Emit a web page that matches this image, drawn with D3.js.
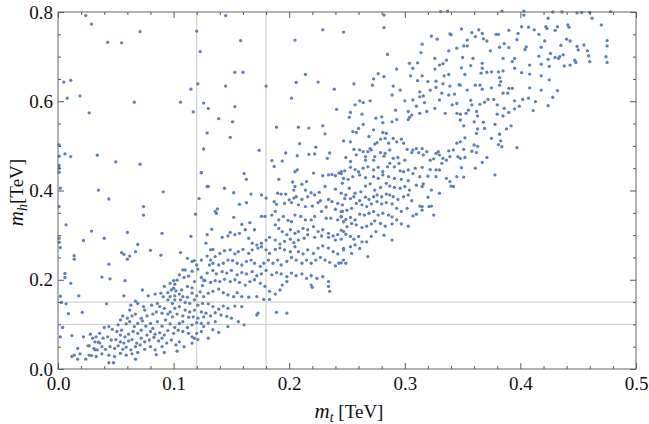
<!DOCTYPE html>
<html>
<head>
<meta charset="utf-8">
<script src="https://cdn.jsdelivr.net/npm/d3@7"></script>
<style>
body { margin: 0; background: #fff; }
text { font-family: "Liberation Serif", serif; }
</style>
</head>
<body>
<svg id="chart" width="649" height="424"></svg>
<script>
// axis ticks
var xTicks = [0, 0.1, 0.2, 0.3, 0.4, 0.5];
var xMinorTicks = [0.02, 0.04, 0.06, 0.08, 0.12, 0.14, 0.16, 0.18, 0.22, 0.24, 0.26, 0.28,
                   0.32, 0.34, 0.36, 0.38, 0.42, 0.44, 0.46, 0.48];
var yTicks = [0, 0.2, 0.4, 0.6, 0.8];
var yMinorTicks = [0.05, 0.1, 0.15, 0.25, 0.3, 0.35, 0.45, 0.5, 0.55, 0.65, 0.7, 0.75];
var gridMt = [0.12, 0.18];
var gridMh = [0.10, 0.15];

// points [m_t, m_h] in TeV
var outliers = [
 [0.024,0.792],[0.029,0.773],[0.043,0.732],[0.055,0.731],[0.071,0.756],[0.120,0.757],[0.123,0.711],[0.005,0.643],
 [0.011,0.647],[0.008,0.607],[0.019,0.612],[0.027,0.574],[0.066,0.598],[0.106,0.598],[0.115,0.627],[0.121,0.639],
 [0.117,0.576],[0.126,0.596],[0.130,0.584],[0.139,0.561],[0.129,0.529],[0.126,0.493],[0.124,0.440],[0.130,0.409],
 [0.122,0.382],[0.001,0.502],[0.001,0.477],[0.001,0.456],[0.001,0.450],[0.001,0.441],[0.006,0.482],[0.011,0.476],
 [0.034,0.479],[0.050,0.464],[0.071,0.459],[0.002,0.405],[0.035,0.401],[0.044,0.381],[0.091,0.397],
 [0.001,0.364],[0.001,0.293],[0.001,0.284],[0.002,0.272],[0.007,0.323],[0.029,0.309],[0.022,0.288],[0.040,0.293],
 [0.060,0.306],[0.069,0.279],[0.090,0.304],[0.115,0.297],[0.074,0.345],[0.074,0.364],[0.014,0.254],[0.014,0.246],
 [0.055,0.261],[0.057,0.257],[0.060,0.246],[0.062,0.253],[0.067,0.263],[0.080,0.266],[0.089,0.255],[0.106,0.261],
 [0.044,0.235],[0.038,0.206],[0.045,0.202],[0.058,0.198],[0.006,0.214],[0.006,0.205],[0.011,0.192],[0.002,0.163],
 [0.018,0.164],[0.003,0.149],[0.007,0.146],[0.021,0.127],[0.009,0.124],[0.042,0.146],[0.057,0.164],[0.004,0.093],
 [0.002,0.072],[0.012,0.075],[0.017,0.046],[0.014,0.031],[0.012,0.028],[0.017,0.022],[0.024,0.022],[0.027,0.031],
 [0.019,0.034],[0.022,0.072],[0.027,0.052],[0.032,0.043],[0.035,0.060],[0.044,0.014],[0.048,0.014],[0.067,0.022],
 [0.085,0.032],[0.119,0.347],
 [0.145,0.792],[0.158,0.736],[0.153,0.665],[0.160,0.665],[0.145,0.634],[0.180,0.634],[0.153,0.588],[0.151,0.554],
 [0.149,0.519],[0.205,0.737],[0.229,0.760],[0.247,0.755],[0.214,0.660],[0.206,0.642],[0.225,0.643],[0.202,0.607],
 [0.239,0.627],[0.241,0.582],[0.189,0.542],[0.208,0.542],[0.217,0.540],[0.229,0.545],[0.231,0.527],[0.209,0.505],
 [0.223,0.497],
 [0.282,0.793],[0.282,0.765],[0.285,0.705],[0.293,0.672],[0.304,0.685],[0.307,0.674],[0.311,0.686],[0.314,0.709],
 [0.315,0.728],[0.323,0.746],[0.328,0.739],[0.331,0.801],[0.337,0.802],[0.339,0.751],[0.340,0.749],[0.345,0.719],
 [0.338,0.713],[0.336,0.692],[0.333,0.684],[0.330,0.681],[0.326,0.696],[0.326,0.672],[0.334,0.657],[0.338,0.660],
 [0.315,0.657],[0.305,0.657],[0.273,0.650],[0.277,0.662],[0.282,0.655]
];

var lowCluster = [
 [0.100,0.198],[0.101,0.190],[0.103,0.199],[0.109,0.205],[0.110,0.222],[0.113,0.208],[0.116,0.219],[0.121,0.224],
 [0.124,0.205],[0.125,0.187],[0.118,0.196],[0.116,0.182],[0.112,0.185],[0.107,0.177],[0.102,0.175],[0.098,0.177],
 [0.095,0.171],[0.097,0.162],[0.101,0.164],[0.105,0.168],[0.108,0.162],[0.112,0.161],[0.116,0.170],[0.120,0.164],
 [0.123,0.173],[0.126,0.162],[0.125,0.147],[0.121,0.143],[0.118,0.155],[0.114,0.147],[0.110,0.149],[0.106,0.155],
 [0.101,0.155],[0.099,0.147],[0.095,0.155],[0.091,0.162],[0.089,0.170],[0.084,0.168],[0.078,0.164],[0.073,0.177],
 [0.067,0.152],[0.069,0.147],[0.063,0.143],[0.062,0.132],[0.074,0.140],[0.075,0.132],[0.081,0.143],[0.086,0.147],
 [0.088,0.140],[0.092,0.136],[0.097,0.128],[0.101,0.136],[0.105,0.140],[0.110,0.132],[0.114,0.128],[0.118,0.132],
 [0.124,0.128],[0.126,0.117],[0.121,0.114],[0.117,0.117],[0.113,0.116],[0.108,0.119],[0.103,0.123],[0.099,0.117],
 [0.095,0.123],[0.090,0.125],[0.085,0.128],[0.082,0.123],[0.077,0.119],[0.072,0.114],[0.067,0.123],[0.064,0.119],
 [0.060,0.114],[0.056,0.119],[0.054,0.110],[0.052,0.099],[0.055,0.087],[0.059,0.101],[0.062,0.106],[0.066,0.095],
 [0.069,0.102],[0.073,0.108],[0.076,0.096],[0.080,0.102],[0.082,0.091],[0.086,0.106],[0.090,0.096],[0.093,0.110],
 [0.097,0.101],[0.101,0.093],[0.105,0.102],[0.108,0.106],[0.112,0.093],[0.116,0.099],[0.120,0.104],[0.124,0.102],
 [0.126,0.095],[0.124,0.084],[0.120,0.080],[0.116,0.072],[0.113,0.080],[0.108,0.084],[0.104,0.087],[0.100,0.080],
 [0.095,0.086],[0.092,0.076],[0.088,0.081],[0.084,0.078],[0.080,0.084],[0.077,0.076],[0.072,0.087],[0.069,0.080],
 [0.065,0.084],[0.061,0.078],[0.058,0.072],[0.054,0.076],[0.051,0.084],[0.047,0.089],[0.044,0.095],[0.040,0.093],
 [0.036,0.080],[0.033,0.072],[0.030,0.069],[0.028,0.078],[0.032,0.061],[0.036,0.058],[0.039,0.069],[0.043,0.072],
 [0.046,0.065],[0.050,0.066],[0.054,0.061],[0.057,0.058],[0.061,0.063],[0.064,0.066],[0.068,0.058],[0.072,0.069],
 [0.075,0.061],[0.079,0.065],[0.083,0.071],[0.087,0.063],[0.090,0.069],[0.094,0.058],[0.098,0.065],[0.102,0.054],
 [0.105,0.061],[0.118,0.069],[0.121,0.066],[0.116,0.058],[0.109,0.050],[0.026,0.052],[0.031,0.046],[0.034,0.043],
 [0.038,0.050],[0.041,0.044],[0.045,0.050],[0.049,0.046],[0.052,0.052],[0.056,0.044],[0.059,0.049],[0.063,0.043],
 [0.067,0.050],[0.071,0.054],[0.075,0.044],[0.080,0.050],[0.084,0.043],[0.090,0.050],[0.092,0.037],[0.069,0.037],
 [0.064,0.034],[0.059,0.031],[0.054,0.035],[0.049,0.028],[0.044,0.031],[0.038,0.034],[0.033,0.028],[0.029,0.030],
 [0.103,0.040],[0.112,0.248],[0.116,0.241],[0.118,0.243],[0.120,0.233],[0.124,0.244],[0.108,0.222],[0.105,0.211],
 [0.097,0.192],[0.092,0.185],[0.100,0.181],[0.126,0.199]
];

var midBand = [
 [0.174,0.490],[0.197,0.484],[0.207,0.478],[0.217,0.481],[0.222,0.482],[0.235,0.484],[0.233,0.472],[0.185,0.467],
 [0.194,0.466],[0.187,0.454],[0.205,0.442],[0.207,0.446],[0.221,0.439],[0.229,0.433],[0.234,0.435],[0.237,0.436],
 [0.243,0.439],[0.245,0.442],[0.124,0.440],[0.161,0.438],[0.163,0.425],[0.191,0.425],[0.203,0.419],[0.205,0.409],
 [0.211,0.414],[0.215,0.420],[0.214,0.401],[0.204,0.401],[0.206,0.386],[0.219,0.395],[0.226,0.396],[0.231,0.409],
 [0.240,0.403],[0.246,0.416],[0.240,0.433],[0.129,0.409],[0.144,0.405],[0.152,0.395],[0.167,0.392],[0.176,0.390],
 [0.180,0.383],[0.187,0.375],[0.190,0.394],[0.193,0.392],[0.197,0.392],[0.200,0.379],[0.204,0.383],[0.211,0.380],
 [0.216,0.386],[0.222,0.390],[0.227,0.377],[0.234,0.380],[0.237,0.375],[0.242,0.371],[0.246,0.368],[0.157,0.369],
 [0.163,0.373],[0.189,0.369],[0.196,0.371],[0.202,0.373],[0.208,0.368],[0.214,0.364],[0.220,0.365],[0.225,0.373],
 [0.232,0.363],[0.240,0.358],[0.245,0.353],[0.136,0.353],[0.138,0.359],[0.137,0.349],[0.152,0.340],[0.159,0.324],
 [0.166,0.328],[0.170,0.312],[0.176,0.342],[0.179,0.342],[0.185,0.345],[0.188,0.353],[0.191,0.334],[0.195,0.342],
 [0.199,0.333],[0.202,0.330],[0.205,0.345],[0.210,0.342],[0.214,0.334],[0.219,0.334],[0.222,0.342],[0.228,0.353],
 [0.232,0.338],[0.236,0.338],[0.242,0.334],[0.247,0.330],[0.245,0.342],[0.188,0.323],[0.191,0.315],[0.194,0.308],
 [0.198,0.301],[0.201,0.312],[0.205,0.304],[0.208,0.308],[0.212,0.315],[0.216,0.312],[0.221,0.319],[0.225,0.308],
 [0.229,0.312],[0.234,0.304],[0.238,0.298],[0.242,0.301],[0.247,0.308],[0.245,0.291],[0.240,0.289],[0.234,0.295],
 [0.228,0.298],[0.222,0.295],[0.216,0.301],[0.213,0.293],[0.208,0.289],[0.204,0.283],[0.201,0.291],[0.196,0.286],
 [0.192,0.280],[0.188,0.289],[0.183,0.295],[0.180,0.289],[0.176,0.282],[0.172,0.278],[0.168,0.282],[0.165,0.293],
 [0.162,0.312],[0.157,0.304],[0.153,0.301],[0.149,0.306],[0.147,0.298],[0.142,0.295],[0.133,0.313],[0.129,0.301],
 [0.128,0.282],[0.132,0.267],[0.134,0.268],[0.129,0.253],[0.132,0.244],[0.136,0.252],[0.140,0.259],[0.144,0.265],
 [0.149,0.267],[0.153,0.258],[0.156,0.263],[0.160,0.268],[0.165,0.259],[0.168,0.267],[0.173,0.271],[0.176,0.274],
 [0.180,0.267],[0.183,0.259],[0.188,0.268],[0.192,0.271],[0.196,0.267],[0.201,0.263],[0.205,0.274],[0.208,0.263],
 [0.212,0.258],[0.216,0.267],[0.221,0.259],[0.225,0.271],[0.229,0.276],[0.234,0.271],[0.238,0.263],[0.242,0.258],
 [0.247,0.267],[0.247,0.244],[0.243,0.237],[0.240,0.231],[0.235,0.239],[0.231,0.244],[0.227,0.250],[0.223,0.244],
 [0.219,0.237],[0.215,0.244],[0.211,0.237],[0.206,0.244],[0.202,0.250],[0.198,0.241],[0.193,0.233],[0.190,0.244],
 [0.186,0.237],[0.182,0.244],[0.178,0.237],[0.175,0.230],[0.170,0.237],[0.167,0.244],[0.163,0.241],[0.159,0.233],
 [0.155,0.237],[0.151,0.243],[0.147,0.244],[0.143,0.237],[0.139,0.233],[0.134,0.237],[0.131,0.233],[0.129,0.215],
 [0.134,0.221],[0.137,0.213],[0.142,0.218],[0.146,0.215],[0.150,0.221],[0.155,0.211],[0.159,0.216],[0.163,0.213],
 [0.168,0.218],[0.172,0.209],[0.176,0.213],[0.180,0.221],[0.185,0.211],[0.189,0.216],[0.193,0.213],[0.198,0.207],
 [0.202,0.215],[0.206,0.209],[0.211,0.213],[0.215,0.203],[0.219,0.209],[0.224,0.203],[0.229,0.207],[0.219,0.188],
 [0.220,0.183],[0.234,0.196],[0.234,0.185],[0.235,0.174],[0.198,0.196],[0.194,0.188],[0.192,0.177],[0.188,0.168],
 [0.183,0.174],[0.179,0.185],[0.175,0.192],[0.170,0.200],[0.166,0.196],[0.162,0.188],[0.157,0.194],[0.153,0.200],
 [0.149,0.196],[0.144,0.201],[0.140,0.196],[0.136,0.198],[0.132,0.194],[0.127,0.198],[0.130,0.170],[0.134,0.174],
 [0.139,0.179],[0.143,0.171],[0.147,0.166],[0.152,0.162],[0.155,0.171],[0.159,0.162],[0.165,0.161],[0.172,0.162],
 [0.178,0.156],[0.183,0.156],[0.189,0.127],[0.198,0.125],[0.173,0.125],[0.172,0.121],[0.159,0.140],[0.153,0.141],
 [0.147,0.136],[0.143,0.141],[0.139,0.134],[0.134,0.140],[0.130,0.146],[0.128,0.125],[0.132,0.119],[0.136,0.126],
 [0.141,0.121],[0.146,0.118],[0.150,0.114],[0.156,0.106],[0.161,0.099],[0.136,0.106],[0.130,0.103],[0.134,0.088],
 [0.139,0.082],[0.147,0.095],[0.130,0.069]
];

var upperBand = [
 [0.256,0.639],[0.272,0.636],[0.290,0.634],[0.289,0.614],[0.296,0.625],[0.311,0.646],[0.320,0.644],[0.327,0.645],
 [0.333,0.639],[0.339,0.634],[0.347,0.637],[0.313,0.621],[0.316,0.612],[0.322,0.625],[0.327,0.631],[0.332,0.618],
 [0.338,0.614],[0.343,0.616],[0.313,0.610],[0.310,0.589],[0.317,0.597],[0.307,0.603],[0.300,0.601],[0.330,0.603],
 [0.341,0.592],[0.345,0.595],[0.319,0.577],[0.313,0.573],[0.303,0.577],[0.304,0.564],[0.303,0.559],[0.306,0.569],
 [0.326,0.584],[0.335,0.573],[0.345,0.573],[0.261,0.601],[0.264,0.597],[0.257,0.592],[0.270,0.601],[0.253,0.575],
 [0.252,0.564],[0.263,0.571],[0.280,0.565],[0.292,0.580],[0.293,0.559],[0.289,0.554],[0.281,0.552],[0.275,0.562],
 [0.273,0.536],[0.264,0.548],[0.260,0.539],[0.258,0.530],[0.255,0.532],[0.269,0.521],[0.281,0.530],[0.284,0.528],
 [0.276,0.507],[0.286,0.506],[0.290,0.517],[0.297,0.515],[0.299,0.506],[0.293,0.509],[0.283,0.517],[0.279,0.515],
 [0.274,0.504],[0.270,0.494],[0.268,0.487],[0.271,0.491],[0.247,0.511],[0.253,0.509],[0.256,0.492],[0.249,0.474],
 [0.253,0.465],[0.258,0.480],[0.261,0.491],[0.264,0.487],[0.266,0.476],[0.266,0.468],[0.273,0.468],[0.274,0.476],
 [0.279,0.485],[0.282,0.477],[0.283,0.483],[0.287,0.491],[0.290,0.472],[0.294,0.474],[0.295,0.461],[0.300,0.468],
 [0.302,0.492],[0.306,0.485],[0.307,0.491],[0.310,0.494],[0.315,0.494],[0.319,0.487],[0.312,0.485],[0.316,0.480],
 [0.322,0.468],[0.325,0.471],[0.327,0.483],[0.329,0.487],[0.330,0.480],[0.333,0.472],[0.338,0.489],[0.342,0.491],
 [0.345,0.506],[0.348,0.509],[0.346,0.476],[0.339,0.476],[0.336,0.468],[0.332,0.461],[0.327,0.446],[0.322,0.447],
 [0.315,0.452],[0.309,0.450],[0.303,0.446],[0.299,0.442],[0.296,0.444],[0.291,0.453],[0.287,0.461],[0.285,0.453],
 [0.281,0.442],[0.277,0.452],[0.273,0.446],[0.268,0.453],[0.264,0.450],[0.260,0.442],[0.257,0.447],[0.253,0.452],
 [0.248,0.444],[0.245,0.438],[0.247,0.427],[0.251,0.425],[0.255,0.431],[0.261,0.435],[0.266,0.429],[0.273,0.431],
 [0.277,0.427],[0.281,0.435],[0.286,0.431],[0.291,0.427],[0.297,0.425],[0.303,0.422],[0.307,0.438],[0.313,0.431],
 [0.320,0.432],[0.327,0.431],[0.330,0.446],[0.336,0.427],[0.339,0.420],[0.340,0.410],[0.342,0.409],[0.345,0.431],
 [0.330,0.394],[0.323,0.401],[0.316,0.415],[0.315,0.409],[0.310,0.412],[0.304,0.401],[0.300,0.409],[0.296,0.405],
 [0.291,0.407],[0.287,0.410],[0.284,0.416],[0.279,0.407],[0.274,0.401],[0.270,0.415],[0.266,0.410],[0.262,0.397],
 [0.257,0.394],[0.252,0.405],[0.249,0.390],[0.245,0.394],[0.248,0.382],[0.253,0.382],[0.256,0.386],[0.261,0.377],
 [0.266,0.385],[0.269,0.380],[0.273,0.386],[0.276,0.390],[0.280,0.386],[0.284,0.392],[0.287,0.390],[0.290,0.386],
 [0.294,0.380],[0.299,0.386],[0.303,0.390],[0.306,0.377],[0.313,0.365],[0.315,0.364],[0.323,0.365],[0.315,0.356],
 [0.310,0.347],[0.307,0.343],[0.303,0.320],[0.302,0.360],[0.297,0.353],[0.293,0.360],[0.289,0.370],[0.284,0.373],
 [0.280,0.370],[0.276,0.375],[0.271,0.370],[0.267,0.364],[0.263,0.368],[0.258,0.371],[0.254,0.360],[0.250,0.356],
 [0.246,0.353],[0.245,0.341],[0.249,0.335],[0.253,0.340],[0.257,0.334],[0.261,0.347],[0.265,0.345],[0.269,0.349],
 [0.273,0.353],[0.277,0.345],[0.281,0.349],[0.286,0.345],[0.289,0.341],[0.293,0.334],[0.297,0.325],[0.289,0.325],
 [0.283,0.320],[0.279,0.326],[0.274,0.332],[0.271,0.325],[0.267,0.320],[0.263,0.317],[0.258,0.323],[0.254,0.326],
 [0.250,0.319],[0.245,0.311],[0.249,0.302],[0.253,0.297],[0.256,0.291],[0.260,0.297],[0.263,0.285],[0.257,0.278],
 [0.253,0.274],[0.247,0.270],[0.261,0.270],[0.267,0.285],[0.271,0.297],[0.275,0.308],[0.282,0.300],[0.289,0.289],
 [0.268,0.252],[0.254,0.259],[0.245,0.238],[0.249,0.237],[0.325,0.345],[0.320,0.385],[0.321,0.364]
];

var topBand = [
 [0.384,0.802],[0.403,0.802],[0.403,0.793],[0.428,0.800],[0.436,0.800],[0.449,0.798],[0.453,0.799],[0.460,0.799],
 [0.478,0.801],[0.424,0.786],[0.462,0.786],[0.470,0.771],[0.401,0.767],[0.407,0.766],[0.412,0.760],[0.422,0.767],
 [0.423,0.763],[0.432,0.767],[0.441,0.771],[0.442,0.766],[0.416,0.750],[0.398,0.752],[0.390,0.759],[0.379,0.750],
 [0.381,0.750],[0.349,0.762],[0.358,0.754],[0.364,0.760],[0.367,0.752],[0.361,0.745],[0.368,0.740],[0.371,0.735],
 [0.354,0.737],[0.351,0.724],[0.354,0.724],[0.374,0.713],[0.382,0.721],[0.386,0.729],[0.390,0.720],[0.397,0.738],
 [0.405,0.722],[0.404,0.716],[0.418,0.721],[0.421,0.735],[0.430,0.759],[0.435,0.725],[0.440,0.739],[0.443,0.735],
 [0.449,0.723],[0.450,0.715],[0.455,0.726],[0.458,0.713],[0.475,0.736],[0.475,0.724],[0.474,0.700],[0.475,0.687],
 [0.459,0.702],[0.460,0.689],[0.447,0.692],[0.448,0.687],[0.443,0.681],[0.438,0.679],[0.437,0.704],[0.434,0.700],
 [0.433,0.696],[0.430,0.698],[0.426,0.707],[0.424,0.694],[0.425,0.678],[0.416,0.701],[0.418,0.683],[0.408,0.681],
 [0.401,0.664],[0.408,0.661],[0.395,0.674],[0.393,0.689],[0.395,0.696],[0.385,0.696],[0.381,0.666],[0.385,0.668],
 [0.382,0.653],[0.383,0.644],[0.382,0.636],[0.375,0.666],[0.371,0.665],[0.366,0.663],[0.367,0.674],[0.367,0.685],
 [0.359,0.696],[0.357,0.680],[0.349,0.675],[0.352,0.660],[0.350,0.698],[0.348,0.636],[0.354,0.625],[0.361,0.636],
 [0.365,0.636],[0.367,0.627],[0.375,0.630],[0.385,0.618],[0.389,0.618],[0.390,0.629],[0.393,0.629],[0.408,0.630],
 [0.418,0.657],[0.425,0.648],[0.418,0.625],[0.428,0.609],[0.432,0.624],[0.413,0.599],[0.407,0.607],[0.402,0.604],
 [0.395,0.601],[0.399,0.589],[0.395,0.583],[0.390,0.575],[0.386,0.584],[0.380,0.592],[0.380,0.571],[0.377,0.604],
 [0.372,0.604],[0.369,0.598],[0.365,0.593],[0.357,0.602],[0.358,0.592],[0.355,0.580],[0.353,0.573],[0.348,0.571],
 [0.348,0.558],[0.351,0.545],[0.352,0.518],[0.362,0.577],[0.363,0.567],[0.360,0.554],[0.368,0.553],[0.363,0.538],
 [0.362,0.528],[0.369,0.539],[0.378,0.548],[0.385,0.567],[0.388,0.538],[0.392,0.545],[0.382,0.526],[0.375,0.517],
 [0.381,0.503],[0.383,0.511],[0.384,0.498],[0.397,0.496],[0.360,0.502],[0.363,0.499],[0.358,0.488],[0.362,0.485],
 [0.351,0.492],[0.352,0.474],[0.348,0.472],[0.371,0.474],[0.367,0.463],[0.349,0.451],[0.361,0.450],[0.378,0.435],
 [0.351,0.430],[0.411,0.579],[0.424,0.590]
];

var margin = {top: 12, right: 13, bottom: 55, left: 58},
    width = 649 - margin.left - margin.right,
    height = 424 - margin.top - margin.bottom;

var svg = d3.select("#chart"),
    g = svg.append("g").attr("transform", "translate(" + margin.left + "," + margin.top + ")");

var x = d3.scaleLinear().domain([0, 0.5]).range([0, width]);
var y = d3.scaleLinear().domain([0, 0.8]).range([height, 0]);

// grid lines
g.selectAll(".gx").data(gridMt).enter().append("line")
    .attr("x1", d => x(d)).attr("x2", d => x(d))
    .attr("y1", 0).attr("y2", height)
    .style("stroke", "#c8c8c8").style("stroke-width", 1);
g.selectAll(".gy").data(gridMh).enter().append("line")
    .attr("x1", 0).attr("x2", width)
    .attr("y1", d => y(d)).attr("y2", d => y(d))
    .style("stroke", "#c8c8c8").style("stroke-width", 1);

// points
var allPoints = outliers.concat(lowCluster, midBand, upperBand, topBand);
g.selectAll("circle")
    .data(allPoints)
    .enter().append("circle")
    .attr("cx", d => x(d[0]))
    .attr("cy", d => y(d[1]))
    .attr("r", 1.65)
    .style("fill", "#5e81b5");

// axes, ticks pointing inward
function styleAxis(sel) {
    sel.attr("font-family", "'Liberation Serif', serif").attr("font-size", 19);
    sel.select(".domain").remove();
    sel.selectAll(".tick line").style("stroke", "#555");
    sel.selectAll("text")
        .attr("font-family", "'Liberation Serif', serif")
        .attr("font-size", 19)
        .attr("fill", "#111");
}

g.append("g").attr("transform", "translate(0," + height + ")")
    .call(d3.axisBottom(x).tickValues(xTicks).tickSize(-6).tickPadding(8).tickFormat(d3.format(".1f")))
    .call(styleAxis);
g.append("g").attr("transform", "translate(0," + height + ")")
    .call(d3.axisBottom(x).tickValues(xMinorTicks).tickSize(-3).tickFormat(""))
    .call(styleAxis);
g.append("g")
    .call(d3.axisTop(x).tickValues(xTicks).tickSize(-6).tickFormat(""))
    .call(styleAxis);
g.append("g")
    .call(d3.axisTop(x).tickValues(xMinorTicks).tickSize(-3).tickFormat(""))
    .call(styleAxis);

g.append("g")
    .call(d3.axisLeft(y).tickValues(yTicks).tickSize(-6).tickPadding(5).tickFormat(d3.format(".1f")))
    .call(styleAxis);
g.append("g")
    .call(d3.axisLeft(y).tickValues(yMinorTicks).tickSize(-3).tickFormat(""))
    .call(styleAxis);
g.append("g").attr("transform", "translate(" + width + ",0)")
    .call(d3.axisRight(y).tickValues(yTicks).tickSize(-6).tickFormat(""))
    .call(styleAxis);
g.append("g").attr("transform", "translate(" + width + ",0)")
    .call(d3.axisRight(y).tickValues(yMinorTicks).tickSize(-3).tickFormat(""))
    .call(styleAxis);

// frame
g.append("rect")
    .attr("width", width).attr("height", height)
    .style("fill", "none").style("stroke", "#666").style("stroke-width", 1);

// axis labels
var xl = svg.append("text")
    .attr("x", margin.left + width / 2 + 2).attr("y", 418)
    .attr("text-anchor", "middle")
    .style("font-size", "19px").style("fill", "#111");
xl.append("tspan").style("font-style", "italic").style("font-size", "21px").text("m");
xl.append("tspan").style("font-style", "italic").style("font-size", "14px").attr("dy", 4).text("t");
xl.append("tspan").attr("dy", -4).text(" [TeV]");

var yl = svg.append("text")
    .attr("transform", "translate(23," + (margin.top + height / 2 + 2) + ") rotate(-90)")
    .attr("text-anchor", "middle")
    .style("font-size", "19px").style("fill", "#111");
yl.append("tspan").style("font-style", "italic").style("font-size", "21px").text("m");
yl.append("tspan").style("font-style", "italic").style("font-size", "14px").attr("dy", 4).text("h");
yl.append("tspan").attr("dy", -4).text("[TeV]");
</script>
</body>
</html>
